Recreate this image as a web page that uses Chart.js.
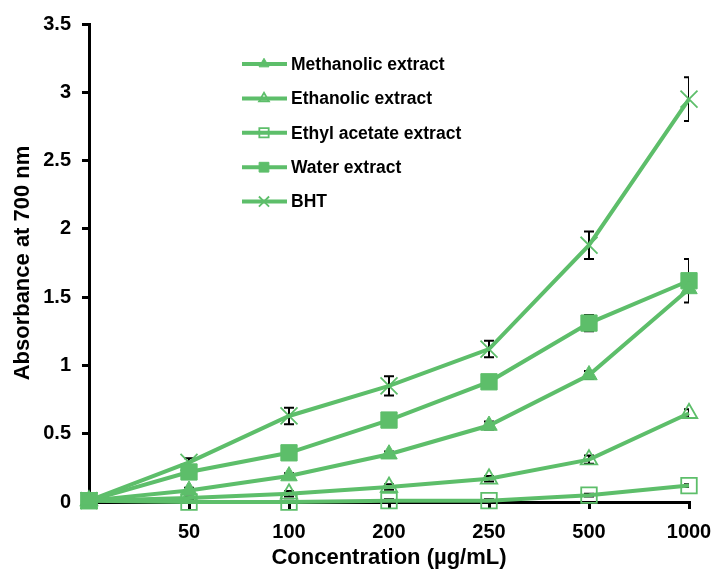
<!DOCTYPE html>
<html>
<head>
<meta charset="utf-8">
<script src="https://cdn.jsdelivr.net/npm/chart.js@4.4.1/dist/chart.umd.min.js"></script>
<style>
  html, body { margin: 0; padding: 0; background: #ffffff; }
  #wrap { width: 714px; height: 574px; }
</style>
</head>
<body>
<div id="wrap"><canvas id="c" width="714" height="574"></canvas></div>
<script>
const categories = ['', '50', '100', '200', '250', '500', '1000'];
const seriesNames = ['Methanolic extract', 'Ethanolic extract', 'Ethyl acetate extract', 'Water extract', 'BHT'];
const yTickLabels = ['0', '0.5', '1', '1.5', '2', '2.5', '3', '3.5'];
const methanolic = [0.01, 0.085, 0.19, 0.35, 0.56, 0.93, 1.56];
const ethanolic = [0.01, 0.03, 0.06, 0.11, 0.17, 0.31, 0.65];
const ethylAcetate = [0.01, 0.0, 0.0, 0.01, 0.01, 0.05, 0.12];
const water = [0.01, 0.22, 0.36, 0.6, 0.88, 1.31, 1.62];
const bht = [0.01, 0.29, 0.63, 0.85, 1.12, 1.88, 2.95];
const methanolicErr = [0, 0.02, 0.02, 0.02, 0.03, 0.03, 0.03];
const ethanolicErr = [0, 0.01, 0.02, 0.02, 0.02, 0.03, 0.03];
const ethylAcetateErr = [0, 0.01, 0.01, 0.01, 0.01, 0.01, 0.01];
const waterErr = [0, 0.02, 0.02, 0.05, 0.02, 0.06, 0.16];
const bhtErr = [0, 0.03, 0.06, 0.07, 0.06, 0.1, 0.16];

const GREEN = 'rgb(93,190,106)';
const FONT = "'Liberation Sans', Arial, sans-serif";

function ds(label, data, err, style, radius, filled) {
  return {
    label: label,
    data: data,
    errors: err,
    borderColor: GREEN,
    backgroundColor: filled ? GREEN : 'rgba(255,255,255,0)',
    pointBorderColor: GREEN,
    pointBackgroundColor: filled ? GREEN : 'rgba(255,255,255,0)',
    pointBorderWidth: filled ? 1 : 1.8,
    borderWidth: 4,
    pointStyle: style,
    pointRadius: radius,
    pointHoverRadius: radius,
    tension: 0,
    fill: false,
    clip: false
  };
}

const errorBars = {
  id: 'errorBars',
  beforeDatasetsDraw(chart) {
    const ctx = chart.ctx;
    const x = chart.scales.x, y = chart.scales.y;
    const a = chart.chartArea;
    ctx.save();
    ctx.beginPath();
    ctx.rect(a.left - 10, a.top - 10, a.right - a.left + 10, a.bottom - a.top + 20);
    ctx.clip();
    ctx.strokeStyle = '#000';
    ctx.lineWidth = 2;
    chart.data.datasets.forEach(d => {
      d.data.forEach((v, i) => {
        const e = d.errors[i];
        if (!e) return;
        const px = x.getPixelForValue(i);
        const top = y.getPixelForValue(v + e);
        const bot = y.getPixelForValue(Math.max(0, v - e));
        ctx.beginPath();
        ctx.moveTo(px, top); ctx.lineTo(px, bot);
        ctx.moveTo(px - 5, top); ctx.lineTo(px + 5, top);
        ctx.moveTo(px - 5, bot); ctx.lineTo(px + 5, bot);
        ctx.stroke();
      });
    });
    ctx.restore();
  }
};

const customLegend = {
  id: 'customLegend',
  afterDraw(chart) {
    const ctx = chart.ctx;
    const x0 = 242, x1 = 287, mx = 264, tx = 291;
    const y0 = 64, dy = 34.4;
    ctx.save();
    chart.data.datasets.forEach((d, i) => {
      const yy = y0 + i * dy;
      ctx.strokeStyle = GREEN;
      ctx.lineWidth = 4;
      ctx.beginPath();
      ctx.moveTo(x0, yy); ctx.lineTo(x1, yy);
      ctx.stroke();
      ctx.fillStyle = d.pointBackgroundColor;
      ctx.strokeStyle = GREEN;
      ctx.lineWidth = d.pointBorderWidth;
      Chart.helpers.drawPoint(ctx, { pointStyle: d.pointStyle, radius: d.pointRadius * 0.6, borderWidth: d.pointBorderWidth, rotation: 0 }, mx, yy);
      ctx.fillStyle = '#000';
      ctx.font = "bold 17.5px " + FONT;
      ctx.textAlign = 'left';
      ctx.textBaseline = 'middle';
      ctx.fillText(d.label, tx, yy + 1);
    });
    ctx.restore();
  }
};

const chart = new Chart(document.getElementById('c'), {
  type: 'line',
  data: {
    labels: categories,
    datasets: [
      ds(seriesNames[0], methanolic, methanolicErr, 'triangle', 9.5, true),
      ds(seriesNames[1], ethanolic, ethanolicErr, 'triangle', 9.5, false),
      ds(seriesNames[2], ethylAcetate, ethylAcetateErr, 'rect', 11, false),
      ds(seriesNames[3], water, waterErr, 'rect', 11.5, true),
      ds(seriesNames[4], bht, bhtErr, 'crossRot', 12, false)
    ]
  },
  options: {
    responsive: false,
    animation: false,
    devicePixelRatio: 1,
    layout: { padding: { left: 0, right: 25, top: 24, bottom: 0 } },
    plugins: {
      legend: { display: false },
      tooltip: { enabled: false }
    },
    scales: {
      x: {
        type: 'category',
        offset: false,
        grid: { display: true, drawOnChartArea: false, drawTicks: true, tickLength: 7, color: '#000', lineWidth: 3 },
        border: { display: true, color: '#000', width: 3 },
        ticks: { color: '#000', font: { family: FONT, size: 20, weight: 'bold' }, padding: 11, maxRotation: 0, autoSkip: false },
        title: { display: true, text: 'Concentration (µg/mL)', color: '#000', font: { family: FONT, size: 22, weight: 'bold' }, padding: { top: 2, bottom: 3 } },
        afterFit(scale) { scale.height = 72; scale.paddingRight = 0; scale.paddingLeft = 0; }
      },
      y: {
        min: 0,
        max: 3.5,
        grid: { display: true, drawOnChartArea: false, drawTicks: true, tickLength: 7, color: '#000', lineWidth: 3 },
        border: { display: true, color: '#000', width: 3 },
        ticks: {
          stepSize: 0.5, color: '#000', font: { family: FONT, size: 20, weight: 'bold' }, padding: 11,
          callback: (v, i) => yTickLabels[i]
        },
        title: { display: true, text: 'Absorbance at 700 nm', color: '#000', font: { family: FONT, size: 22, weight: 'bold' }, padding: { top: 10, bottom: 4 } },
        afterFit(scale) { scale.width = 89; }
      }
    }
  },
  plugins: [errorBars, customLegend]
});
</script>
</body>
</html>
